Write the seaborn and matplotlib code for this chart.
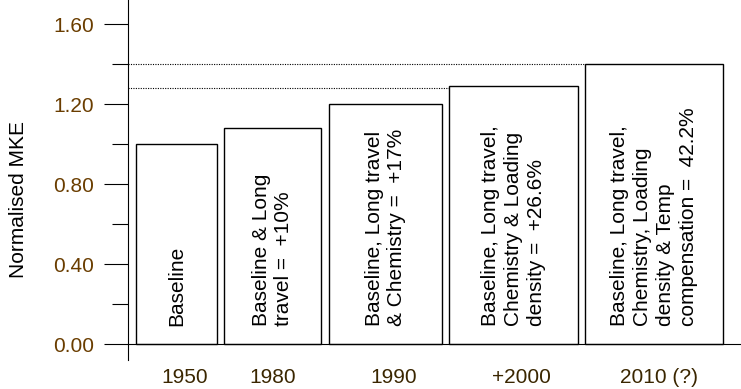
import matplotlib
matplotlib.use("Agg")
import matplotlib.pyplot as plt
import seaborn as sns
import pandas as pd
from matplotlib.ticker import FixedLocator

# ---- data ----
categories = ["1950", "1980", "1990", "+2000", "2010 (?)"]
values = [1.00, 1.08, 1.20, 1.29, 1.40]
bar_texts = [
    "Baseline",
    "Baseline & Long\ntravel =  +10%",
    "Baseline, Long travel\n& Chemistry =  +17%",
    "Baseline, Long travel,\nChemistry & Loading\ndensity =  +26.6%",
    "Baseline, Long travel,\nChemistry, Loading\ndensity & Temp\ncompensation =  42.2%",
]
ref_levels = [1.40, 1.28]
y_major = [0.0, 0.4, 0.8, 1.2, 1.6]
y_minor = [0.2, 0.6, 1.0, 1.4]
y_labels = ["0.00", "0.40", "0.80", "1.20", "1.60"]

# ---- layout (axis units) ----
bar_left = [8, 96, 201, 321, 457]
bar_width = [81, 97, 113, 129, 138]
label_pos = [57, 145, 266, 393, 531]
ref_end = [457, 321]

sns.set_theme(style="white")
plt.rcParams["font.family"] = ["Liberation Sans", "DejaVu Sans"]

fig = plt.figure(figsize=(7.41, 3.89), dpi=100)
ax = fig.add_axes([128 / 741, 29 / 389, 1 - 128 / 741, 360 / 389])

df = pd.DataFrame({"cat": categories, "val": values})
sns.barplot(data=df, x="cat", y="val", order=categories, color="white",
            saturation=1, edgecolor="black", linewidth=1.0, ax=ax)

for p, l, w in zip(ax.patches, bar_left, bar_width):
    p.set_x(l)
    p.set_width(w)

for p, txt in zip(ax.patches, bar_texts):
    ax.text(p.get_x() + p.get_width() / 2, 0.09, txt, rotation=90,
            ha="center", va="bottom", multialignment="left",
            fontsize=15, color="black", linespacing=1.25)

for lvl, end in zip(ref_levels, ref_end):
    ax.plot([0, end], [lvl, lvl], color="black", lw=0.8,
            linestyle=(0, (1, 1.2)), zorder=0.5)

ax.axhline(0, color="black", lw=0.8, clip_on=False)

ax.set_xlim(0, 613)
ax.set_ylim(-0.078, 1.72)
ax.set_xticks(label_pos)
ax.set_xticklabels(categories, fontsize=15, color="#3a2600")
ax.yaxis.set_major_locator(FixedLocator(y_major))
ax.set_yticklabels(y_labels, fontsize=15, color="#6a3d00")
ax.yaxis.set_minor_locator(FixedLocator(y_minor))
ax.tick_params(axis="y", which="major", length=17.3, width=0.8,
               direction="out", pad=7, left=True, color="black")
ax.tick_params(axis="y", which="minor", length=11.5, width=0.8,
               direction="out", left=True, color="black")
ax.tick_params(axis="x", length=0, pad=6)
ax.set_xlabel("")
ax.set_ylabel("")

for s in ["top", "right", "bottom"]:
    ax.spines[s].set_visible(False)
ax.spines["left"].set_color("black")
ax.spines["left"].set_linewidth(0.8)
ax.grid(False)
ax.set_facecolor("white")

fig.text(19 / 741, 1 - 199 / 389, "Normalised MKE", rotation=90,
         ha="center", va="center", fontsize=15, color="black")

fig.savefig("out.png", dpi=100, facecolor="white")
